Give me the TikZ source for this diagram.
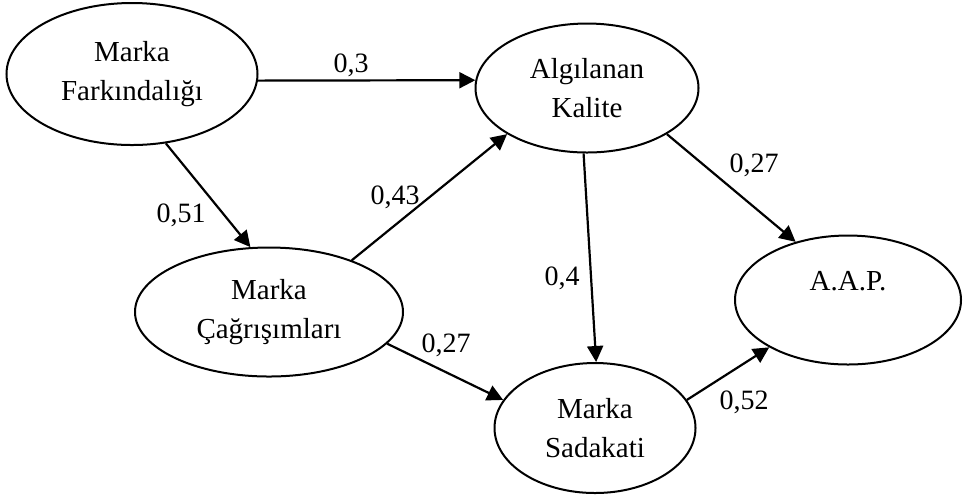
\documentclass[tikz,border=0pt]{standalone}
\usepackage{fontspec}
\setmainfont{Liberation Serif}
\usetikzlibrary{arrows.meta, shapes.geometric}

\begin{document}
\begin{tikzpicture}[
    x=0.5pt, y=-0.5pt,
    latent/.style={draw, ellipse, line width=1pt, inner sep=0pt, align=center, font=\fontsize{14.5}{19.5}\selectfont},
    coef/.style={inner sep=0pt, font=\fontsize{14}{17}\selectfont},
    link/.style={->, line width=1.1pt},
    >={Triangle[length=8pt, width=8pt]}
]
\useasboundingbox (0,0) rectangle (963,495);
% constructs
\node[latent, minimum width=125.5pt, minimum height=71pt] (fark) at (132,74) {Marka\\Farkındalığı};
\node[latent, minimum width=111.5pt, minimum height=64.5pt] (kalite) at (587,88) {Algılanan\\Kalite};
\node[latent, minimum width=134pt, minimum height=64.5pt] (cagri) at (269,312) {Marka\\Çağrışımları};
\node[latent, minimum width=100.5pt, minimum height=65pt] (sadakat) at (595,428) {Marka\\Sadakati};
\node[latent, minimum width=113pt, minimum height=64.5pt] (aap) at (848,300) {A.A.P.\\~};
% paths
\draw[link] (fark.-3.6) -- (kalite.176.9);
\draw[link] (fark.-64.8) -- (cagri.106.5);
\draw[link] (cagri.32.5) -- (kalite.210.9);
\draw[link] (kalite.267.3) -- (sadakat.89);
\draw[link] (kalite.-30.1) -- (aap.132.3);
\draw[link] (cagri.-15.2) -- (sadakat.163.1);
\draw[link] (sadakat.17.8) -- (aap.211.7);
% coefficients
\node[coef] (c1) at (351,65) {0,3};
\node[coef] (c2) at (181,215) {0,51};
\node[coef] (c3) at (395,197) {0,43};
\node[coef] (c4) at (562,278) {0,4};
\node[coef] (c5) at (754,165) {0,27};
\node[coef] (c6) at (446,345) {0,27};
\node[coef] (c7) at (744,402) {0,52};
\end{tikzpicture}
\end{document}
